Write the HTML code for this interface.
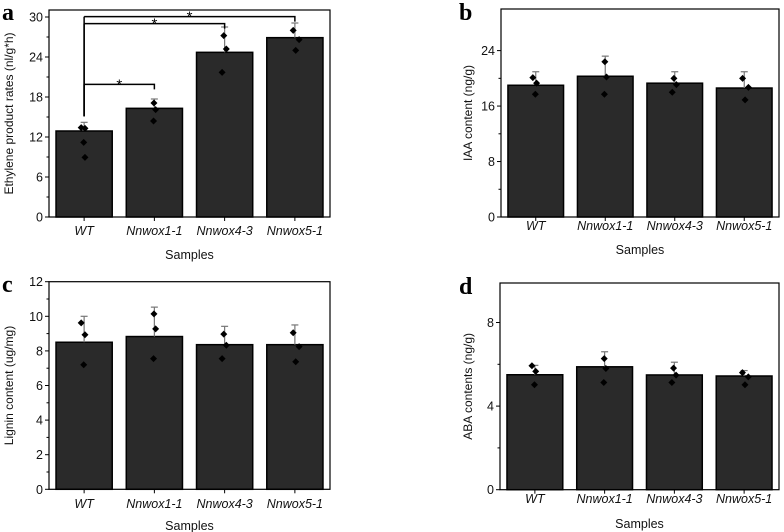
<!DOCTYPE html>
<html><head><meta charset="utf-8"><style>
html,body{margin:0;padding:0;background:#fff;}
svg{display:block;font-family:"Liberation Sans",Arial,sans-serif;}
</style></head><body>
<svg id="fig" width="784" height="532" viewBox="0 0 784 532"></svg>
<script>
const categories = ["WT","Nnwox1-1","Nnwox4-3","Nnwox5-1"];
const aMeans = [12.9, 16.3, 24.7, 26.9];
const aErr = [14.2, 17.7, 28.5, 29.1];
const aPoints = [[13.4,13.3,11.2,8.95],[17.1,16.1,14.4],[27.2,25.2,21.7],[28.0,26.6,25.0]];
const bMeans = [19.0, 20.3, 19.3, 18.6];
const bErr = [20.95, 23.2, 20.95, 20.95];
const bPoints = [[20.1,19.3,17.7],[22.4,20.2,17.7],[20.0,19.1,18.0],[20.0,18.7,16.9]];
const cMeans = [8.5, 8.83, 8.36, 8.36];
const cErr = [10.0, 10.53, 9.42, 9.5];
const cPoints = [[9.62,8.93,7.2],[10.14,9.27,7.55],[8.97,8.33,7.55],[9.05,8.25,7.37]];
const dMeans = [5.5, 5.88, 5.49, 5.44];
const dErr = [5.95, 6.6, 6.1, 5.7];
const dPoints = [[5.93,5.66,5.02],[6.27,5.8,5.13],[5.82,5.48,5.13],[5.6,5.4,5.02]];
const aTicks = [0,6,12,18,24,30];
const bTicks = [0,8,16,24];
const cTicks = [0,2,4,6,8,10,12];
const dTicks = [0,4,8];
const jitter = [[-0.07,0.02,-0.01,0.02],[-0.01,0.03,-0.02],[-0.02,0.04,-0.06],[-0.04,0.1,0.02]];
const aSig = [[0,1,19.9],[0,2,29.0],[0,3,30.05]];

const svg=document.getElementById('fig');
const NS='http://www.w3.org/2000/svg';
function mk(tag,attrs,parent){const e=document.createElementNS(NS,tag);for(const k in attrs)e.setAttribute(k,attrs[k]);(parent||svg).appendChild(e);return e;}

function panel(p){
  const g=mk('g',{});
  
  
  const x0=p.x0,x1=p.x1,yTop=p.yTop,yBot=p.yBot;
  const band=(x1-x0)/categories.length;
  const xs=i=>x0+band*(i+0.5);
  const ys=v=>yBot-(v/p.ymax)*(yBot-yTop);
  const bw=band*0.8;
  categories.forEach((c,i)=>{
    const b=mk('rect',{x:xs(i)-bw/2,y:ys(p.means[i]),width:bw,height:yBot-ys(p.means[i]),fill:'#2a2a2a',stroke:'#000','stroke-width':1.5},g);
    
    
    const eb=mk('g',{stroke:'#777','stroke-width':1.2},g);
    
    
    mk('line',{x1:xs(i),x2:xs(i),y1:ys(p.means[i]),y2:ys(p.err[i])},eb);
    mk('line',{x1:xs(i)-3.5,x2:xs(i)+3.5,y1:ys(p.err[i]),y2:ys(p.err[i])},eb);
    p.points[i].forEach((v,j)=>{
      const px=xs(i)+(jitter[i][j]||0)*band*0.6, py=ys(v);
      const d=mk('path',{d:`M${px} ${py-3.5}L${px+3.5} ${py}L${px} ${py+3.5}L${px-3.5} ${py}Z`,fill:'#000'},g);
      
      
    });
    const t=mk('text',{x:xs(i),y:p.xlabY,'text-anchor':'middle','font-size':12.5,'font-style':'italic',fill:'#111'},g);
    t.textContent=c;
    
    
    mk('line',{x1:xs(i),x2:xs(i),y1:yBot,y2:yBot+4,stroke:'#000','stroke-width':1},g);
  });
  const fr=mk('rect',{x:x0,y:yTop,width:x1-x0,height:yBot-yTop,fill:'none',stroke:'#000','stroke-width':1.2},g);
  
  
  p.ticks.forEach((v,k)=>{
    mk('line',{x1:x0-4,x2:x0,y1:ys(v),y2:ys(v),stroke:'#000','stroke-width':1},g);
    const t=mk('text',{x:x0-6,y:ys(v)+4.5,'text-anchor':'end','font-size':12.5,fill:'#111'},g);
    t.textContent=v;
    
    
    if(k<p.ticks.length-1){const m=(v+p.ticks[k+1])/2;mk('line',{x1:x0-2.5,x2:x0,y1:ys(m),y2:ys(m),stroke:'#000','stroke-width':1},g);}
  });
  const yl=mk('text',{transform:`translate(${p.ylabX},${(yTop+yBot)/2}) rotate(-90)`,'text-anchor':'middle','font-size':12,fill:'#111'},g);
  yl.textContent=p.ylabel;
  
  
  const xl=mk('text',{x:(x0+x1)/2,y:p.samplesY,'text-anchor':'middle','font-size':12.5,fill:'#111'},g);
  xl.textContent='Samples';
  
  
  const L=mk('text',{x:p.letterX,y:p.letterY,'font-family':'"Liberation Serif",serif','font-weight':'bold','font-size':24,fill:'#000'},g);
  L.textContent=p.id;
  
  
  if(p.sig){p.sig.forEach(s=>{
    const y=ys(s[2]),xa=xs(s[0]),xb=xs(s[1]);
    const sg=mk('g',{},g);
    
    
    mk('path',{d:`M${xa} ${y}L${xb} ${y}L${xb} ${y+5}`,fill:'none',stroke:'#000','stroke-width':1.5},sg);
    mk('line',{x1:xa,x2:xa,y1:y,y2:ys(p.err[0])-6,stroke:'#000','stroke-width':1.5},sg);
    const st=mk('text',{x:(xa+xb)/2,y:y+5,'text-anchor':'middle','font-size':15,fill:'#000'},sg);
    st.textContent='*';
  });}
}
panel({id:'a',x0:49,x1:330,yTop:10,yBot:217,ymax:31.05,means:aMeans,err:aErr,points:aPoints,ticks:aTicks,ylabel:'Ethylene product rates (nl/g*h)',ylabX:13,xlabY:235,samplesY:259,letterX:2,letterY:20,sig:aSig});
panel({id:'b',x0:501,x1:779,yTop:9,yBot:217,ymax:30,means:bMeans,err:bErr,points:bPoints,ticks:bTicks,ylabel:'IAA content (ng/g)',ylabX:472,xlabY:230,samplesY:254,letterX:459,letterY:20});
panel({id:'c',x0:49,x1:330,yTop:281.7,yBot:489.3,ymax:12,means:cMeans,err:cErr,points:cPoints,ticks:cTicks,ylabel:'Lignin content (ug/mg)',ylabX:13,xlabY:508,samplesY:530,letterX:2,letterY:292});
panel({id:'d',x0:500,x1:779,yTop:283,yBot:489.7,ymax:9.89,means:dMeans,err:dErr,points:dPoints,ticks:dTicks,ylabel:'ABA contents (ng/g)',ylabX:472,xlabY:503,samplesY:528,letterX:459,letterY:294});
</script>
</body></html>
